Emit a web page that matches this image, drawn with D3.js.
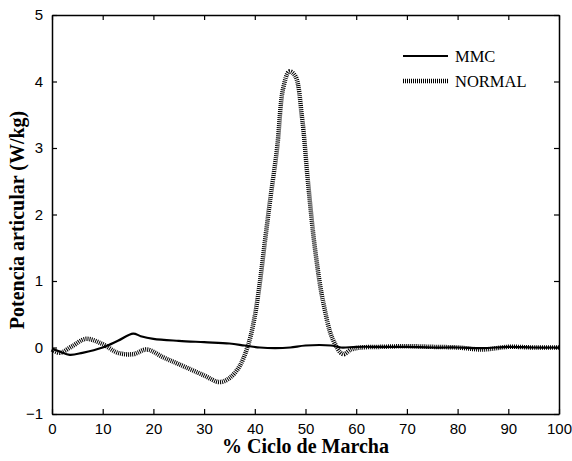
<!DOCTYPE html>
<html><head><meta charset="utf-8">
<script src="https://cdn.jsdelivr.net/npm/d3@7"></script>
<style>body{margin:0;background:#fff}svg{display:block}</style>
</head><body>
<svg id="c" width="572" height="461"></svg>
<script>
const xTicks = [0,10,20,30,40,50,60,70,80,90,100];
const yTicks = [-1,0,1,2,3,4,5];
const seriesNames = ["MMC","NORMAL"];
const mmcX = [0,1.5,3.5,6,10,13,16,17.5,20,25,30,35,38,41,44,47,50,55,57,60,65,70,75,80,85,90,95,100];
const mmcY = [-0.02,-0.06,-0.11,-0.08,0.0,0.1,0.21,0.17,0.13,0.1,0.08,0.06,0.03,0.0,-0.01,0.0,0.03,0.03,0.0,0.01,0.01,0.01,0.0,0.0,-0.01,0.01,0.0,0.0];
const normX = [0,1.5,4,6.7,10,13,16,18.7,22,25,30,33,35,37,38.7,40,41,42,43,44.4,45.6,46.8,48,49.3,50.5,51.9,53.5,55.4,57.4,59,61,65,70,75,80,85,90,95,100];
const normY = [-0.03,-0.08,0.02,0.13,0.05,-0.08,-0.1,-0.03,-0.15,-0.25,-0.42,-0.52,-0.46,-0.28,0.04,0.47,0.98,1.6,2.2,3.0,3.9,4.15,4.08,3.47,2.48,1.47,0.68,0.12,-0.1,-0.03,0.0,0.01,0.02,0.01,0.0,-0.03,0.01,0.0,0.0];

const svg = d3.select("#c");
const L=52, R=559, T=15, B=414;
const x = d3.scaleLinear().domain([0,100]).range([L,R]);
const y = d3.scaleLinear().domain([-1,5]).range([B,T]);

const g = svg.append("g");
const tl = 5;
const fmt = d3.format("d");
g.append("g").attr("transform",`translate(0,${B})`).call(d3.axisBottom(x).tickValues(xTicks).tickFormat(fmt).tickSizeInner(-tl).tickSizeOuter(0).tickPadding(tl+4));
g.append("g").attr("transform",`translate(0,${T})`).call(d3.axisTop(x).tickValues(xTicks).tickSizeInner(-tl).tickSizeOuter(0).tickFormat(""));
g.append("g").attr("transform",`translate(${L},0)`).call(d3.axisLeft(y).tickValues(yTicks).tickFormat(fmt).tickSizeInner(-tl).tickSizeOuter(0).tickPadding(tl+4));
g.append("g").attr("transform",`translate(${R},0)`).call(d3.axisRight(y).tickValues(yTicks).tickSizeInner(-tl).tickSizeOuter(0).tickFormat(""));
g.selectAll(".domain").attr("stroke","#000").attr("stroke-width",1.5);
g.selectAll(".tick line").attr("stroke","#000").attr("stroke-width",1.2);
g.selectAll(".tick text").attr("font-family","'Liberation Sans',Arial,sans-serif").attr("font-size",15).attr("fill","#000");

const line = d3.line().x(d=>x(d[0])).y(d=>y(d[1])).curve(d3.curveCatmullRom.alpha(0.5));
const normData = normX.map((v,i)=>[v,normY[i]]);
const mmcData = mmcX.map((v,i)=>[v,mmcY[i]]);
svg.append("path").attr("d",line(normData)).attr("fill","none").attr("stroke","#000").attr("stroke-width",4.5).attr("stroke-dasharray","1,1");
svg.append("path").attr("d",line(mmcData)).attr("fill","none").attr("stroke","#000").attr("stroke-width",2.2);

const lg = svg.append("g");
const lx1=403, lx2=448;
[56,81].forEach((ly,i)=>{
  lg.append("line").attr("x1",lx1).attr("x2",lx2).attr("y1",ly).attr("y2",ly)
    .attr("stroke","#000").attr("stroke-width", i===0?2.2:4.5).attr("stroke-dasharray", i===0?null:"1,1");
  lg.append("text").attr("x",455).attr("y",ly+6).text(seriesNames[i])
    .attr("font-family","'Liberation Serif','Times New Roman',serif").attr("font-size",16.5);
});

svg.append("text").attr("x",(L+R)/2).attr("y",453).attr("text-anchor","middle")
  .attr("font-family","'Liberation Serif','Times New Roman',serif").attr("font-weight","bold").attr("font-size",20)
  .text("% Ciclo de Marcha");
svg.append("text").attr("transform",`translate(24,220) rotate(-90)`).attr("text-anchor","middle")
  .attr("font-family","'Liberation Serif','Times New Roman',serif").attr("font-weight","bold").attr("font-size",20)
  .text("Potencia articular (W/kg)");
</script>
</body></html>
